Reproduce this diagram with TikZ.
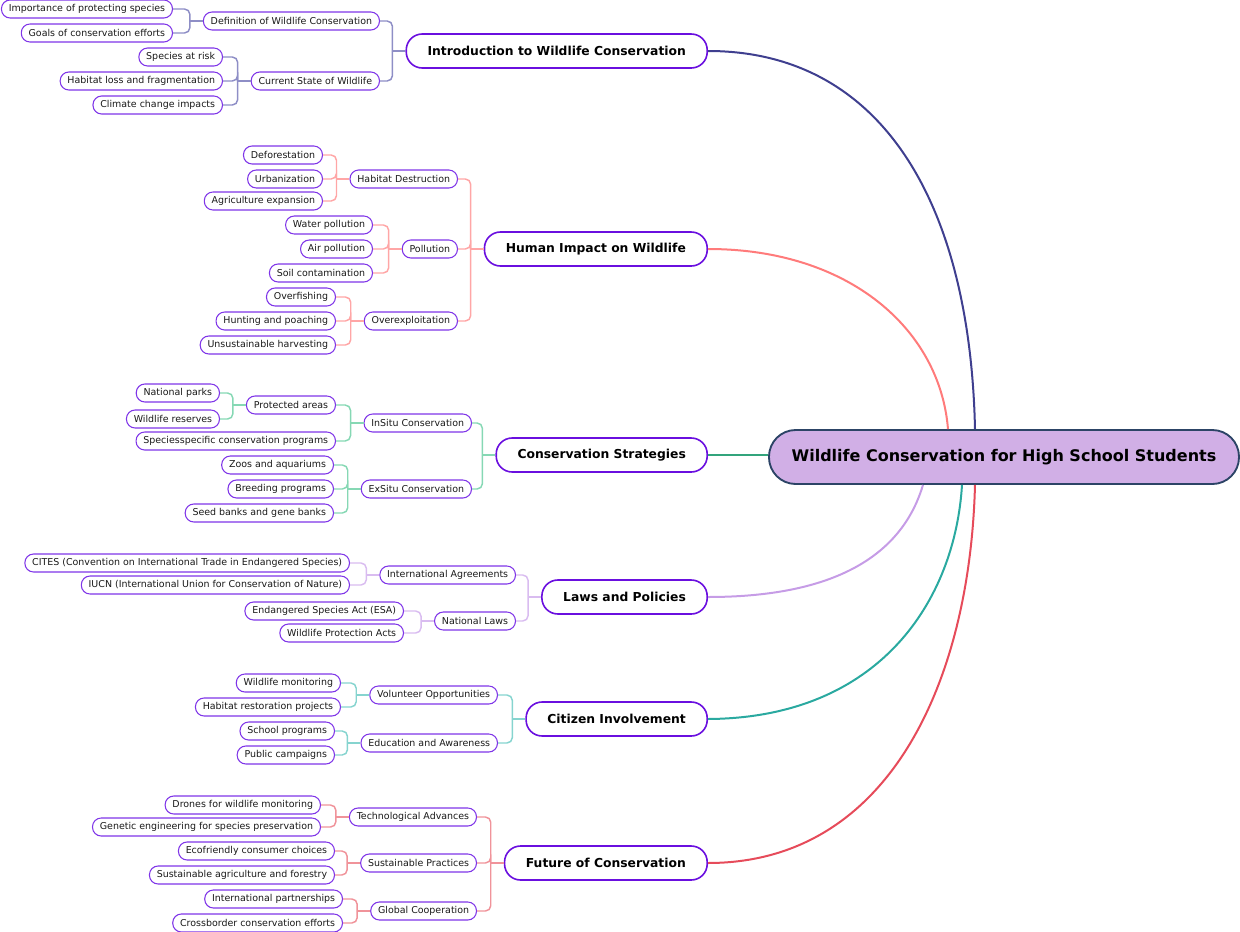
\documentclass[tikz,border=0pt]{standalone}
\usepackage{fontspec}
\setmainfont{DejaVu Sans}
\usetikzlibrary{positioning}

\definecolor{rootfill}{HTML}{D1AFE6}
\definecolor{rootdraw}{HTML}{2C4466}
\definecolor{temadraw}{HTML}{6A0FDF}
\definecolor{hojadraw}{HTML}{7F35E8}
\definecolor{mIntro}{HTML}{3F3F8F}
\definecolor{sIntro}{HTML}{8E8EC6}
\definecolor{mHuman}{HTML}{FF7B7B}
\definecolor{sHuman}{HTML}{FFA6A6}
\definecolor{mEstrat}{HTML}{33A47C}
\definecolor{sEstrat}{HTML}{86D8B4}
\definecolor{mLeyes}{HTML}{C69CE6}
\definecolor{sLeyes}{HTML}{D9BCF0}
\definecolor{mCiuda}{HTML}{2AA9A0}
\definecolor{sCiuda}{HTML}{86D4CF}
\definecolor{mFuturo}{HTML}{E64B5A}
\definecolor{sFuturo}{HTML}{F0939A}

\tikzset{
  raiz/.style={draw=rootdraw, line width=1.4pt, fill=rootfill, rounded corners=20pt,
    minimum height=40.5pt, inner xsep=17pt, text=black,
    font=\fontsize{12}{14}\selectfont\bfseries},
  tema/.style={draw=temadraw, line width=1.2pt, fill=white, rounded corners=12pt,
    minimum height=25.5pt, inner xsep=16pt, text=black,
    font=\fontsize{9.25}{11}\selectfont\bfseries},
  hoja/.style={draw=hojadraw, line width=0.8pt, fill=white, rounded corners=6.5pt,
    minimum height=13.5pt, inner ysep=1pt, inner xsep=5.5pt, text=black!90,
    font=\fontsize{7.1}{8}\selectfont},
  rama/.style={line width=1.1pt, rounded corners=4pt},
  curva/.style={line width=1.5pt}
}

\begin{document}
\begin{tikzpicture}[x=0.75pt,y=-0.75pt]
  % Marco del dibujo
  \useasboundingbox (0,0) rectangle (1240,932);

  % Nodo central
  \node[raiz] (root) at (1004,457) {Wildlife Conservation for High School Students};

  % Temas principales
  \node[tema,anchor=east] (intro) at (708,51) {Introduction to Wildlife Conservation};
  \node[tema,anchor=east] (humano) at (708,249) {Human Impact on Wildlife};
  \node[tema,anchor=east] (estrat) at (708,455) {Conservation Strategies};
  \node[tema,anchor=east] (leyes) at (708,597) {Laws and Policies};
  \node[tema,anchor=east] (ciuda) at (708,719) {Citizen Involvement};
  \node[tema,anchor=east] (futuro) at (708,863) {Future of Conservation};

  % Introduccion
  \node[hoja,anchor=east] (defi) at (380,21) {Definition of Wildlife Conservation};
  \node[hoja,anchor=east] (estado) at (380,81) {Current State of Wildlife};
  \node[hoja,anchor=east] (impo) at (173,9) {Importance of protecting species};
  \node[hoja,anchor=east] (metas) at (173,33) {Goals of conservation efforts};
  \node[hoja,anchor=east] (riesgo) at (223,57) {Species at risk};
  \node[hoja,anchor=east] (perdida) at (223,81) {Habitat loss and fragmentation};
  \node[hoja,anchor=east] (clima) at (223,105) {Climate change impacts};

  % Impacto humano
  \node[hoja,anchor=east] (destr) at (458,179) {Habitat Destruction};
  \node[hoja,anchor=east] (polu) at (458,249) {Pollution};
  \node[hoja,anchor=east] (sobre) at (458,321) {Overexploitation};
  \node[hoja,anchor=east] (defo) at (323,155) {Deforestation};
  \node[hoja,anchor=east] (urb) at (323,179) {Urbanization};
  \node[hoja,anchor=east] (agri) at (323,201) {Agriculture expansion};
  \node[hoja,anchor=east] (agua) at (373,225) {Water pollution};
  \node[hoja,anchor=east] (aire) at (373,249) {Air pollution};
  \node[hoja,anchor=east] (suelo) at (373,273) {Soil contamination};
  \node[hoja,anchor=east] (pesca) at (336,297) {Overfishing};
  \node[hoja,anchor=east] (caza) at (336,321) {Hunting and poaching};
  \node[hoja,anchor=east] (cosecha) at (336,345) {Unsustainable harvesting};

  % Estrategias
  \node[hoja,anchor=east] (insitu) at (472,423) {InSitu Conservation};
  \node[hoja,anchor=east] (exsitu) at (472,489) {ExSitu Conservation};
  \node[hoja,anchor=east] (areas) at (336,405) {Protected areas};
  \node[hoja,anchor=east] (especie) at (336,441) {Speciesspecific conservation programs};
  \node[hoja,anchor=east] (parques) at (220,393) {National parks};
  \node[hoja,anchor=east] (reservas) at (220,419) {Wildlife reserves};
  \node[hoja,anchor=east] (zoos) at (334,465) {Zoos and aquariums};
  \node[hoja,anchor=east] (cria) at (334,489) {Breeding programs};
  \node[hoja,anchor=east] (semillas) at (334,513) {Seed banks and gene banks};

  % Leyes
  \node[hoja,anchor=east] (inter) at (516,575) {International Agreements};
  \node[hoja,anchor=east] (nacio) at (516,621) {National Laws};
  \node[hoja,anchor=east] (cites) at (350,563) {CITES (Convention on International Trade in Endangered Species)};
  \node[hoja,anchor=east] (iucn) at (350,585) {IUCN (International Union for Conservation of Nature)};
  \node[hoja,anchor=east] (esa) at (404,611) {Endangered Species Act (ESA)};
  \node[hoja,anchor=east] (wpa) at (404,633) {Wildlife Protection Acts};

  % Ciudadania
  \node[hoja,anchor=east] (volun) at (498,695) {Volunteer Opportunities};
  \node[hoja,anchor=east] (educ) at (498,743) {Education and Awareness};
  \node[hoja,anchor=east] (monit) at (341,683) {Wildlife monitoring};
  \node[hoja,anchor=east] (restau) at (341,707) {Habitat restoration projects};
  \node[hoja,anchor=east] (escuela) at (335,731) {School programs};
  \node[hoja,anchor=east] (campa) at (335,755) {Public campaigns};

  % Futuro
  \node[hoja,anchor=east] (tecno) at (477,817) {Technological Advances};
  \node[hoja,anchor=east] (sosten) at (477,863) {Sustainable Practices};
  \node[hoja,anchor=east] (global) at (477,911) {Global Cooperation};
  \node[hoja,anchor=east] (drones) at (321,805) {Drones for wildlife monitoring};
  \node[hoja,anchor=east] (genet) at (321,827) {Genetic engineering for species preservation};
  \node[hoja,anchor=east] (ecof) at (335,851) {Ecofriendly consumer choices};
  \node[hoja,anchor=east] (agrsos) at (335,875) {Sustainable agriculture and forestry};
  \node[hoja,anchor=east] (socios) at (343,899) {International partnerships};
  \node[hoja,anchor=east] (fronte) at (343,923) {Crossborder conservation efforts};

  % Curvas del nodo central a los temas
  \draw[curva,draw=mIntro] (intro.east) .. controls (880,51) and (970,200) .. ([xshift=-21.75pt]root.north);
  \draw[curva,draw=mHuman] (humano.east) .. controls (850,249) and (940,330) .. ([xshift=-42pt]root.north);
  \draw[curva,draw=mEstrat] (estrat.east) -- (estrat.east -| root.west);
  \draw[curva,draw=mLeyes] (leyes.east) .. controls (850,597) and (905,545) .. ([xshift=-60.75pt]root.south);
  \draw[curva,draw=mCiuda] (ciuda.east) .. controls (880,718) and (955,600) .. ([xshift=-31.5pt]root.south);
  \draw[curva,draw=mFuturo] (futuro.east) .. controls (890,863) and (970,680) .. ([xshift=-21.75pt]root.south);

  % Ramas en codo
  \foreach \padre/\hijos/\col in {
      intro/{defi,estado}/sIntro, defi/{impo,metas}/sIntro,
      estado/{riesgo,perdida,clima}/sIntro,
      humano/{destr,polu,sobre}/sHuman, destr/{defo,urb,agri}/sHuman,
      polu/{agua,aire,suelo}/sHuman, sobre/{pesca,caza,cosecha}/sHuman,
      estrat/{insitu,exsitu}/sEstrat, insitu/{areas,especie}/sEstrat,
      areas/{parques,reservas}/sEstrat, exsitu/{zoos,cria,semillas}/sEstrat,
      leyes/{inter,nacio}/sLeyes, inter/{cites,iucn}/sLeyes, nacio/{esa,wpa}/sLeyes,
      ciuda/{volun,educ}/sCiuda, volun/{monit,restau}/sCiuda, educ/{escuela,campa}/sCiuda,
      futuro/{tecno,sosten,global}/sFuturo, tecno/{drones,genet}/sFuturo,
      sosten/{ecof,agrsos}/sFuturo, global/{socios,fronte}/sFuturo}
  {
    \draw[rama,draw=\col] (\padre.west) -- ++(-13,0) coordinate (j);
    \foreach \h in \hijos \draw[rama,draw=\col] (j) |- (\h.east);
  }
\end{tikzpicture}
\end{document}
